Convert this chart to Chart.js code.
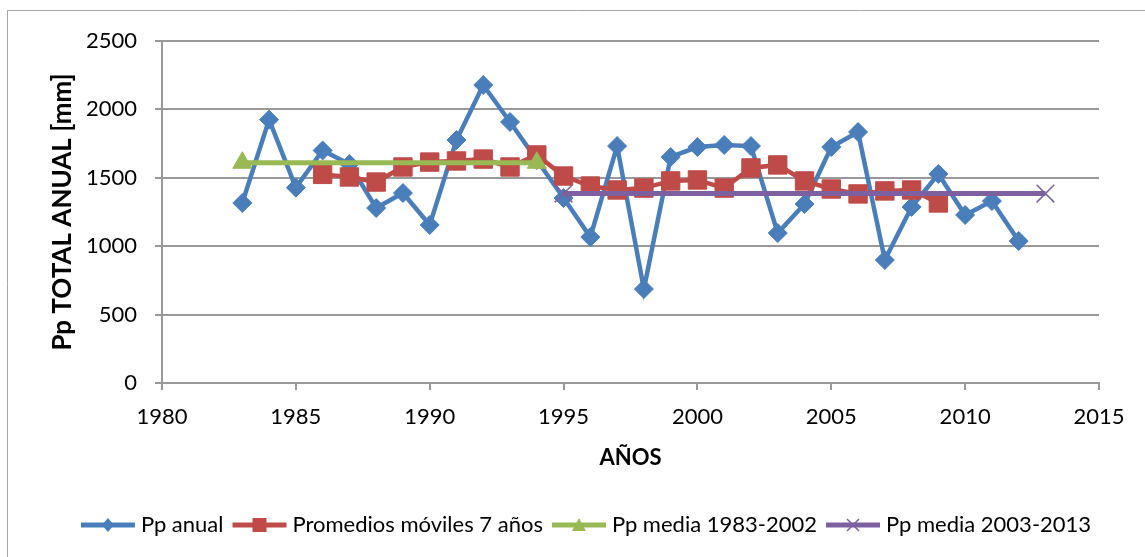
<!DOCTYPE html>
<html lang="es">
<head>
  <meta charset="UTF-8">
  <title>Pp total anual</title>
  <script src="https://cdn.jsdelivr.net/npm/chart.js"></script>
  <style>
    html, body { margin: 0; padding: 0; background: #fff; }
    .wrap { width: 1145px; height: 557px; }
  </style>
</head>
<body>
  <div class="wrap"><canvas id="ppChart" width="1145" height="557"></canvas></div>

  <script>
    // Data
    const years = [1983, 1984, 1985, 1986, 1987, 1988, 1989, 1990, 1991, 1992,
                   1993, 1994, 1995, 1996, 1997, 1998, 1999, 2000, 2001, 2002,
                   2003, 2004, 2005, 2006, 2007, 2008, 2009, 2010, 2011, 2012];
    const ppAnual = [1316, 1925, 1428, 1700, 1600, 1279, 1389, 1155, 1776, 2178,
                     1908, 1630, 1352, 1067, 1732, 687, 1652, 1725, 1740, 1732,
                     1096, 1308, 1725, 1835, 899, 1287, 1528, 1228, 1330, 1038];

    const movYears = [1986, 1987, 1988, 1989, 1990, 1991, 1992, 1993, 1994, 1995,
                      1996, 1997, 1998, 1999, 2000, 2001, 2002, 2003, 2004, 2005,
                      2006, 2007, 2008, 2009];
    const promMoviles = [1525, 1506, 1469, 1579, 1615, 1623, 1637, 1579, 1667, 1513,
                         1440, 1411, 1425, 1477, 1484, 1425, 1572, 1594, 1477, 1418,
                         1382, 1404, 1411, 1316];

    const media1Years = [1983, 1994];
    const media1 = [1610, 1610];
    const media2Years = [1995, 2013];
    const media2 = [1385, 1385];

    const seriesNames = ['Pp anual', 'Promedios móviles 7 años', 'Pp media 1983-2002', 'Pp media 2003-2013'];

    const FONT = 'Lato, "Open Sans", sans-serif';
    const GRID = '#999999';

    const toXY = (xs, ys) => xs.map((x, i) => ({ x: x, y: ys[i] }));

    // small canvas used as legend symbol: line with marker in the middle
    function legendIcon(color, style) {
      const c = document.createElement('canvas');
      c.width = 58; c.height = 20;
      const g = c.getContext('2d');
      g.strokeStyle = color;
      g.fillStyle = color;
      g.lineWidth = 5;
      g.beginPath(); g.moveTo(2, 10); g.lineTo(56, 10); g.stroke();
      const cx = 29, cy = 10;
      g.beginPath();
      if (style === 'rectRot') {
        g.moveTo(cx, cy - 7); g.lineTo(cx + 6, cy); g.lineTo(cx, cy + 7); g.lineTo(cx - 6, cy);
        g.closePath(); g.fill();
      } else if (style === 'rect') {
        g.rect(cx - 7, cy - 7, 14, 14); g.fill();
      } else if (style === 'triangle') {
        g.moveTo(cx, cy - 7); g.lineTo(cx + 7, cy + 6); g.lineTo(cx - 7, cy + 6);
        g.closePath(); g.fill();
      } else {
        g.lineWidth = 1.5;
        g.moveTo(cx - 6, cy - 6); g.lineTo(cx + 6, cy + 6);
        g.moveTo(cx + 6, cy - 6); g.lineTo(cx - 6, cy + 6);
        g.stroke();
      }
      return c;
    }

    // outer frame of the chart object + legend nudged right like the original
    const frame = {
      id: 'frame',
      afterLayout(chart) {
        if (chart.legend) {
          chart.legend.left += 35;
          chart.legend.right += 35;
        }
      },
      beforeDraw(chart) {
        const ctx = chart.ctx;
        ctx.save();
        ctx.strokeStyle = '#a6a6a6';
        ctx.lineWidth = 1;
        ctx.beginPath();
        ctx.moveTo(7.5, 557);
        ctx.lineTo(7.5, 10.5);
        ctx.lineTo(1145, 10.5);
        ctx.stroke();
        ctx.restore();
      }
    };

    const colors = ['#4A7EBB', '#BE4B48', '#98B954', '#7D60A0'];
    const styles = ['rectRot', 'rect', 'triangle', 'crossRot'];

    new Chart(document.getElementById('ppChart'), {
      type: 'line',
      data: {
        datasets: [
          {
            label: seriesNames[0],
            data: toXY(years, ppAnual),
            borderColor: colors[0], backgroundColor: colors[0],
            borderWidth: 4.5, pointStyle: 'rectRot', pointRadius: 9.5,
            pointBorderWidth: 1, order: 4
          },
          {
            label: seriesNames[1],
            data: toXY(movYears, promMoviles),
            borderColor: colors[1], backgroundColor: colors[1],
            borderWidth: 4.5, pointStyle: 'rect', pointRadius: 13,
            pointBorderWidth: 1, order: 3
          },
          {
            label: seriesNames[2],
            data: toXY(media1Years, media1),
            borderColor: colors[2], backgroundColor: colors[2],
            borderWidth: 5, pointStyle: 'triangle', pointRadius: 11,
            pointBorderWidth: 1, order: 2
          },
          {
            label: seriesNames[3],
            data: toXY(media2Years, media2),
            borderColor: colors[3], backgroundColor: colors[3],
            borderWidth: 5, pointStyle: 'crossRot', pointRadius: 12.5,
            pointBorderWidth: 1.5, order: 1
          }
        ]
      },
      options: {
        responsive: false,
        animation: false,
        layout: { padding: { top: 41, left: 8, right: 46, bottom: 11 } },
        plugins: {
          tooltip: { enabled: false },
          legend: {
            position: 'bottom',
            labels: {
              usePointStyle: true,
              pointStyleWidth: 44,
              padding: 14,
              color: '#000',
              font: { family: FONT, size: 22 },
              generateLabels: (chart) => chart.data.datasets.map((ds, i) => ({
                text: ds.label,
                pointStyle: legendIcon(colors[i], styles[i]),
                fillStyle: colors[i],
                strokeStyle: colors[i],
                lineWidth: 0,
                hidden: false,
                datasetIndex: i
              }))
            }
          }
        },
        scales: {
          x: {
            type: 'linear',
            min: 1980, max: 2015,
            afterFit: (s) => { s.height = 117; },
            ticks: { stepSize: 5, padding: 14, color: '#000', font: { family: FONT, size: 22 },
                     callback: (v) => String(v) },
            grid: { drawOnChartArea: false, drawTicks: true, tickLength: 7, color: GRID, lineWidth: 2 },
            border: { display: true, color: GRID, width: 2 },
            title: { display: true, text: 'AÑOS', color: '#000',
                     font: { family: FONT, size: 22, weight: 'bold' }, padding: { top: 0, bottom: 29 } }
          },
          y: {
            min: 0, max: 2500,
            afterFit: (s) => { s.width = 154; },
            ticks: { stepSize: 500, padding: 18, color: '#000', font: { family: FONT, size: 22 },
                     callback: (v) => String(v) },
            grid: { drawTicks: true, tickLength: 7, color: GRID, lineWidth: 2 },
            border: { display: true, color: GRID, width: 2 },
            title: { display: true, text: 'Pp TOTAL ANUAL [mm]', color: '#000',
                     font: { family: FONT, size: 26, weight: 'bold' }, padding: { top: 39, bottom: 0 } }
          }
        }
      },
      plugins: [frame]
    });
  </script>
</body>
</html>
